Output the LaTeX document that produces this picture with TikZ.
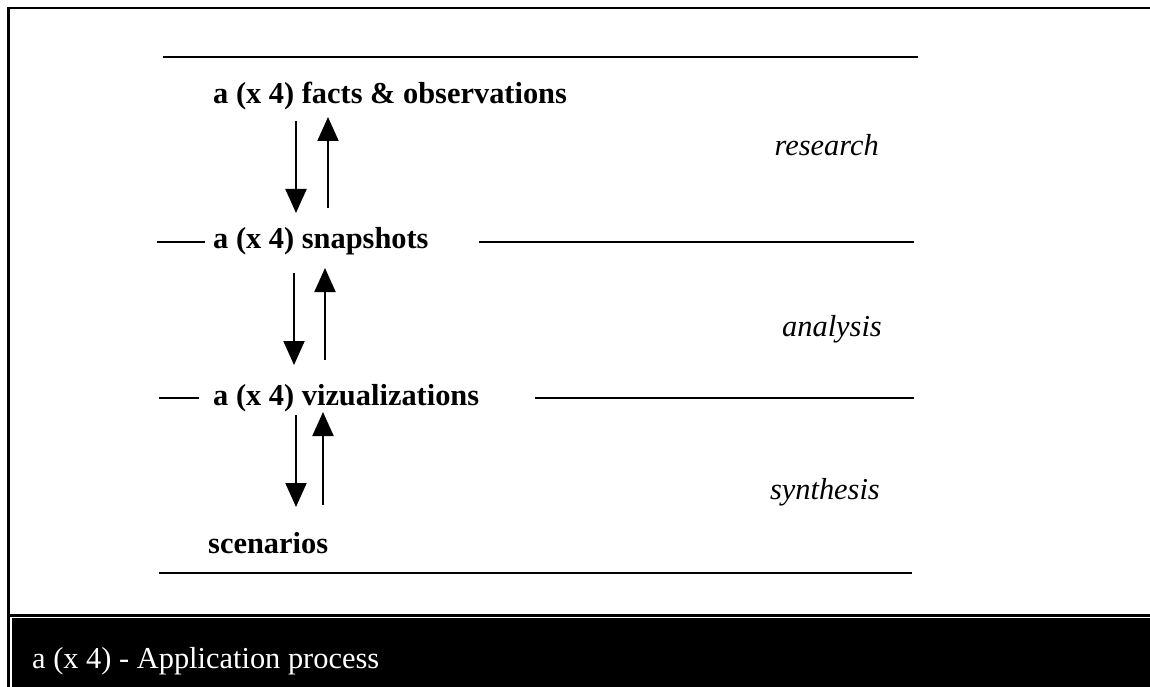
\documentclass[tikz,border=0pt]{standalone}
\usepackage{fontspec}
\setmainfont{Liberation Serif}
\usetikzlibrary{arrows.meta}
\begin{document}
\begin{tikzpicture}[x=1bp,y=-1bp,
  stage/.style={anchor=base west,inner sep=0pt,font=\fontsize{30.4bp}{36bp}\selectfont\bfseries},
  phase/.style={anchor=base east,inner sep=0pt,font=\fontsize{30.4bp}{36bp}\selectfont\itshape},
  title/.style={anchor=base west,inner sep=0pt,text=white,font=\fontsize{30.4bp}{36bp}\selectfont},
  rule/.style={line width=2bp},
  frame/.style={line width=2.3bp},
  flow/.style={line width=2bp,-{Triangle[width=21bp,length=24bp]}},
]
\useasboundingbox (0,0) rectangle (1150,687);
\fill[white] (0,0) rectangle (1150,687);

% outer frame and caption bar
\draw[frame] (8.5,8) -- (1151,8);
\draw[frame] (8.5,7) -- (8.5,688);
\draw[frame] (8.5,615.5) -- (1151,615.5);
\fill[black] (12,618) rectangle (1151,688);
\node[title] (caption) at (32,668) {a (x 4) - Application process};

% stages
\node[stage] (facts) at (213,104) {a (x 4) facts \& observations};
\node[stage] (snap)  at (213,248) {a (x 4) snapshots};
\node[stage] (viz)   at (213,405) {a (x 4) vizualizations};
\node[stage] (scen)  at (208,553) {scenarios};

% phases
\node[phase] (research)  at (879,156) {research};
\node[phase] (analysis)  at (882,336) {analysis};
\node[phase] (synthesis) at (880,499) {synthesis};

% separating rules
\draw[rule] (163,57) -- (918,57);
\draw[rule] (157,242) -- (205,242);
\draw[rule] (479,242) -- (914,242);
\draw[rule] (159,398) -- (199,398);
\draw[rule] (535,398) -- (914,398);
\draw[rule] (159,573) -- (912,573);

% flows between stages
\coordinate (a1s) at (296,121); \coordinate (a1e) at (296,213);
\coordinate (b1s) at (328,208); \coordinate (b1e) at (328,117);
\coordinate (a2s) at (294,273); \coordinate (a2e) at (294,365);
\coordinate (b2s) at (325,360); \coordinate (b2e) at (325,268);
\coordinate (a3s) at (296,415); \coordinate (a3e) at (296,507);
\coordinate (b3s) at (323,505); \coordinate (b3e) at (323,412);
\draw[flow] (a1s) -- (a1e);
\draw[flow] (b1s) -- (b1e);
\draw[flow] (a2s) -- (a2e);
\draw[flow] (b2s) -- (b2e);
\draw[flow] (a3s) -- (a3e);
\draw[flow] (b3s) -- (b3e);
\end{tikzpicture}
\end{document}
